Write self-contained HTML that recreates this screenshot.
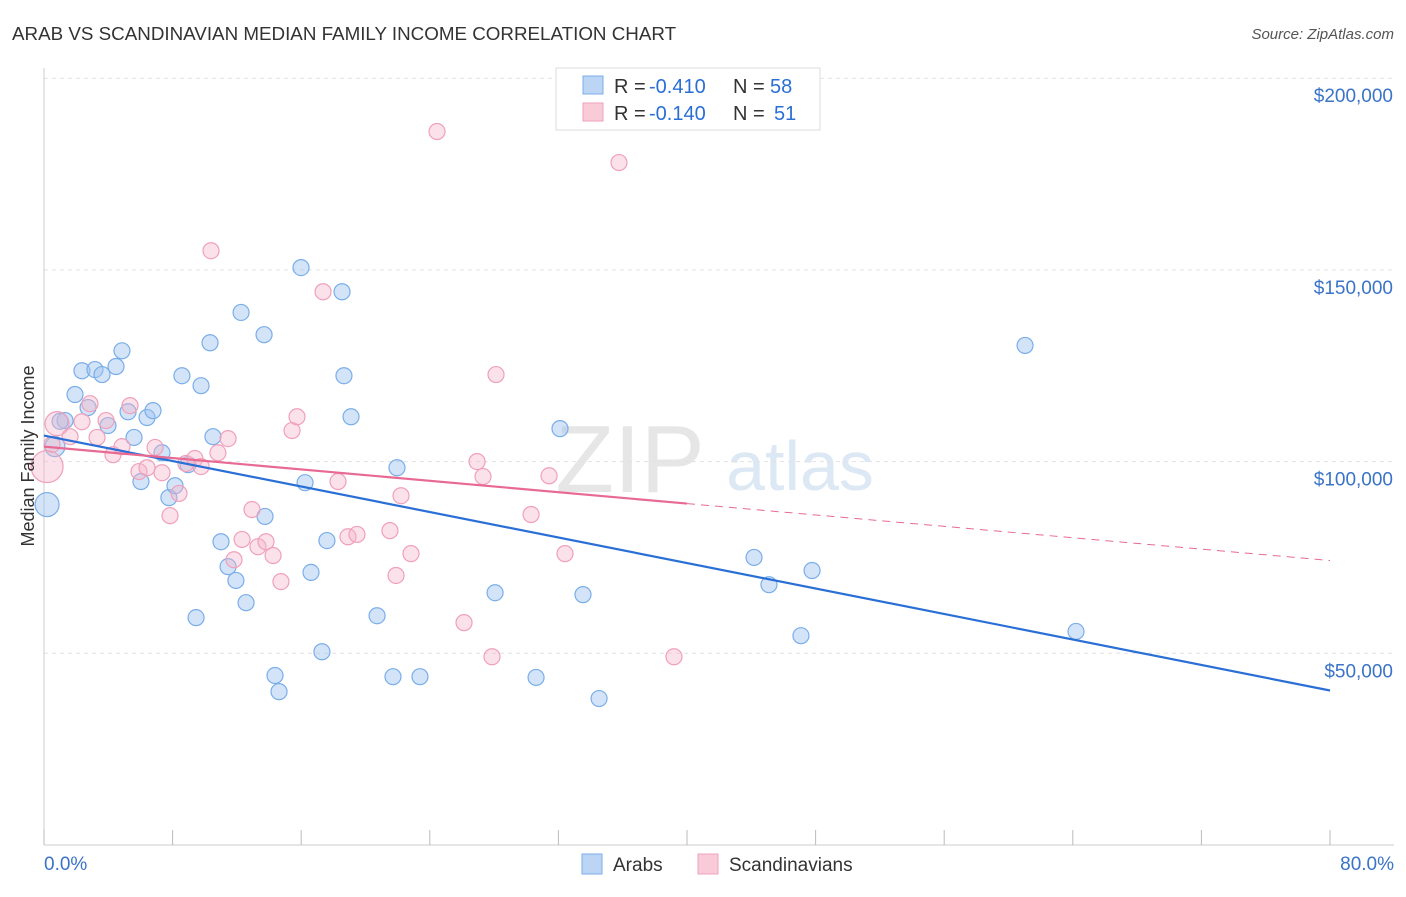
<!DOCTYPE html>
<html><head><meta charset="utf-8"><style>
body{margin:0;background:#fff;font-family:"Liberation Sans",sans-serif}
svg text{font-family:"Liberation Sans",sans-serif}
</style></head><body>
<svg id="chart" width="1406" height="892">
<text x="12" y="40" font-size="18.8" fill="#333">ARAB VS SCANDINAVIAN MEDIAN FAMILY INCOME CORRELATION CHART</text>
<text x="1394" y="39" font-size="15" fill="#555" text-anchor="end" font-style="italic">Source: ZipAtlas.com</text>
<text x="630" y="492" font-size="96" fill="#e6e6e6" font-family="Liberation Serif" text-anchor="middle">ZIP</text>
<text x="800" y="490" font-size="70" fill="#dde8f5" text-anchor="middle">atlas</text>
<g id="grid"></g><g id="axes"></g><g id="marks"></g>
<text transform="translate(34,456) rotate(-90)" font-size="18" fill="#333" text-anchor="middle">Median Family Income</text>
<g>
<rect x="556" y="68" width="264" height="62" fill="#fff" stroke="#ddd"/>
<rect x="583" y="76" width="20" height="18" fill="#bcd5f5" stroke="#7aaee8"/>
<text x="614" y="93" font-size="20" fill="#333">R =</text>
<text x="649" y="93" font-size="20" fill="#2a6fd6">-0.410</text>
<text x="733" y="93" font-size="20" fill="#333">N =</text>
<text x="770" y="93" font-size="20" fill="#2a6fd6">58</text>
<rect x="583" y="103" width="20" height="18" fill="#f9cbd9" stroke="#f0a0bb"/>
<text x="614" y="120" font-size="20" fill="#333">R =</text>
<text x="649" y="120" font-size="20" fill="#2a6fd6">-0.140</text>
<text x="733" y="120" font-size="20" fill="#333">N =</text>
<text x="774" y="120" font-size="20" fill="#2a6fd6">51</text>
</g>
<g>
<rect x="582" y="854" width="20" height="20" fill="#bcd5f5" stroke="#7aaee8"/>
<text x="613" y="871" font-size="19" fill="#333">Arabs</text>
<rect x="698" y="854" width="20" height="20" fill="#f9cbd9" stroke="#f0a0bb"/>
<text x="729" y="871" font-size="19" fill="#333">Scandinavians</text>
</g>
</svg>
<script>
const yTicks=[50000,100000,150000,200000];
const yTickLabels=["$50,000","$100,000","$150,000","$200,000"];
const xTickLabels=["0.0%","80.0%"];
const arabX=[0.19,0.68,1.31,1.93,2.36,3.17,3.61,3.98,4.48,4.85,5.23,5.60,6.03,6.41,6.78,7.34,7.77,8.15,8.58,8.96,9.46,9.77,10.33,10.51,11.01,11.45,11.94,12.26,12.57,13.69,13.75,14.37,14.62,15.99,16.24,16.61,17.29,17.60,18.54,18.66,19.10,20.72,21.71,21.96,23.39,28.06,30.61,32.10,33.53,34.53,44.17,45.10,47.09,47.78,61.03,64.20,2.74,1.0];
const arabY=[88.8,103.9,110.7,117.5,123.7,124.0,122.7,109.4,124.8,128.9,113.0,106.3,94.8,111.5,113.3,102.3,90.6,93.7,122.4,99.2,59.3,119.8,131.0,106.5,79.1,72.6,69.0,138.9,63.2,133.1,85.7,44.2,40.0,150.6,94.5,71.1,50.4,79.4,144.3,122.4,111.7,59.8,43.9,98.4,43.9,65.8,43.7,108.6,65.3,38.2,75.0,67.9,54.6,71.6,130.3,55.7,114.1,110.5];
const scanX=[0.19,0.81,1.62,2.36,2.86,3.30,3.86,4.29,4.85,5.35,5.91,6.41,6.91,7.34,7.84,8.40,8.83,9.39,9.77,10.39,10.82,11.45,11.82,12.32,12.94,13.31,13.81,14.25,14.74,15.43,15.74,17.36,18.29,18.91,19.47,21.52,21.90,22.21,22.83,24.45,26.13,26.94,27.31,27.87,28.12,30.30,31.42,32.41,35.77,39.19,0.5];
const scanY=[98.7,109.9,106.5,110.4,115.1,106.3,110.7,101.8,103.9,114.6,97.4,98.4,103.7,97.1,85.9,91.7,99.5,100.8,98.7,155.0,102.3,106.0,74.4,79.7,87.5,77.8,79.1,75.5,68.7,108.1,111.7,144.3,94.8,80.4,81.0,82.0,70.3,91.1,76.0,186.1,58.0,100.0,96.1,49.1,122.7,86.2,96.3,76.0,178.0,49.1,104.5];
const arabTrend=[106.8,40.3];
const scanTrend=[103.9,74.2];
const NS="http://www.w3.org/2000/svg";
const X=p=>44+p*16.075;
const Y=v=>845-v*383.4/100000;
function mk(t,a,parent){const e=document.createElementNS(NS,t);for(const k in a)e.setAttribute(k,a[k]);parent.appendChild(e);return e;}
const grid=document.getElementById('grid'),axes=document.getElementById('axes'),marks=document.getElementById('marks');
yTicks.forEach((v,i)=>{
 const l=mk('line',{x1:44,x2:1394,y1:Y(v),y2:Y(v),stroke:'#e2e2e2','stroke-dasharray':'4,4'},grid);
 
 
 const t=mk('text',{x:1393,y:Y(v)+24,'font-size':19,fill:'#3a73c8','text-anchor':'end'},axes);
 t.textContent=yTickLabels[i];
 
 
});
const xa=mk('line',{x1:44,x2:1394,y1:845,y2:845,stroke:'#ccc'},axes);


const ya=mk('line',{x1:44,x2:44,y1:68,y2:845,stroke:'#ccc'},axes);


for(let i=0;i<=10;i++){const t=mk('line',{x1:X(i*8),x2:X(i*8),y1:830,y2:845,stroke:'#bbb'},axes);
 
 }
[[0,'start',44],[80,'end',1394]].forEach((d,i)=>{const t=mk('text',{x:d[2],y:870,'font-size':19,fill:'#3a73c8','text-anchor':d[1]},axes);t.textContent=xTickLabels[i];
 
 });
arabX.forEach((x,i)=>{const c=mk('circle',{cx:X(x),cy:Y(arabY[i]*1000),r:i==0?12:(i==1?10:8),fill:'rgba(160,196,240,0.45)',stroke:'#7aaee8','stroke-width':1.2},marks);
 
 });
scanX.forEach((x,i)=>{const c=mk('circle',{cx:X(x),cy:Y(scanY[i]*1000),r:i==0?16:(i==1?12:8),fill:'rgba(245,180,200,0.4)',stroke:'#f0a0bb','stroke-width':1.2},marks);
 
 });
const bl=mk('line',{x1:X(0),y1:Y(arabTrend[0]*1000),x2:X(80),y2:Y(arabTrend[1]*1000),stroke:'#2a6fd6','stroke-width':2.2},marks);


const sm=scanTrend[0]+(scanTrend[1]-scanTrend[0])*0.5;
const pl=mk('line',{x1:X(0),y1:Y(scanTrend[0]*1000),x2:X(40),y2:Y(sm*1000),stroke:'#e86a93','stroke-width':2.2},marks);


const pd=mk('line',{x1:X(40),y1:Y(sm*1000),x2:X(80),y2:Y(scanTrend[1]*1000),stroke:'#e86a93','stroke-width':1,'stroke-dasharray':'8,6'},marks);


</script>
</body></html>
